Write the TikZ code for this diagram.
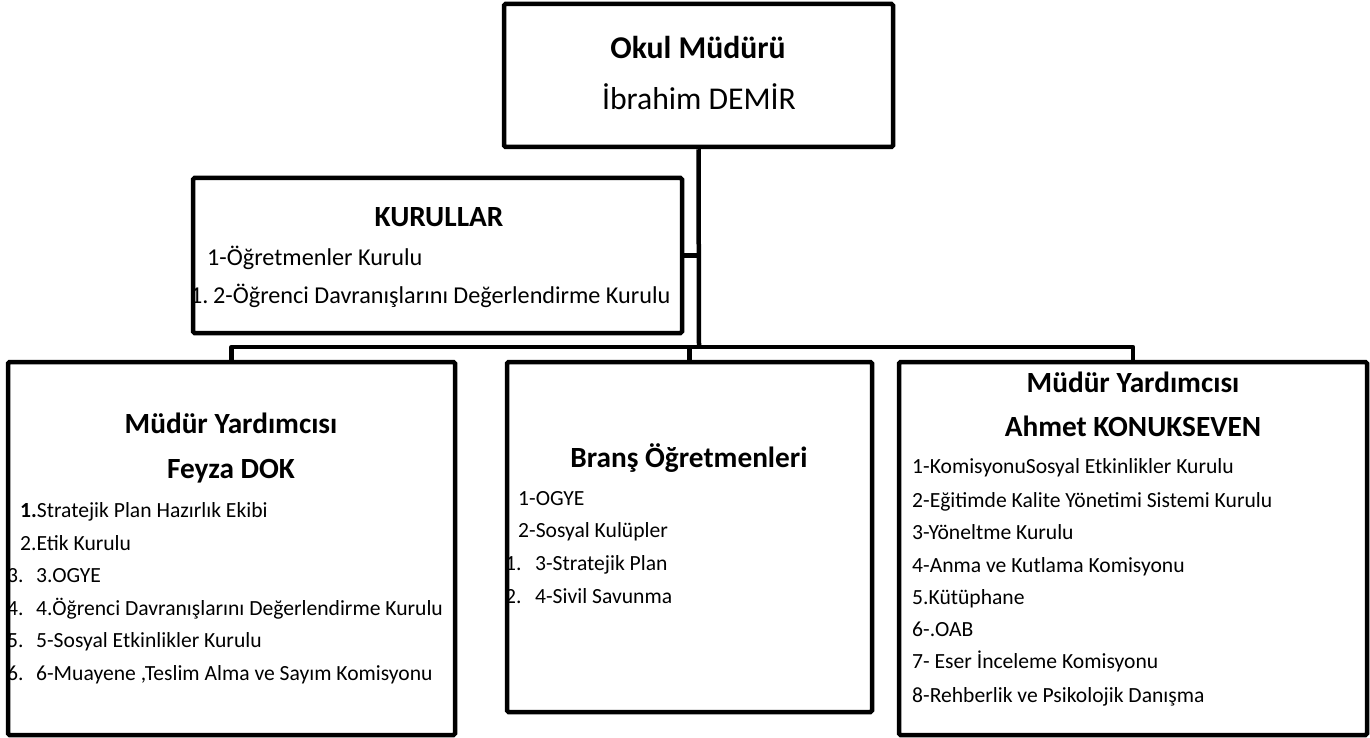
\documentclass[tikz,border=0pt]{standalone}
\usepackage{fontspec}
\setmainfont{Carlito}
\begin{document}
\begin{tikzpicture}[x=1pt,y=-1pt,
  box/.style={draw=black,fill=white,line width=4.5pt,rounded corners=1.5pt,inner sep=0pt},
  conn/.style={draw=black,line width=4.5pt},
  bigtitle/.style={anchor=base,inner sep=0pt,font=\fontsize{31.7}{37}\selectfont},
  title/.style={anchor=base,inner sep=0pt,font=\fontsize{29.3}{34}\selectfont\bfseries},
  item/.style={anchor=base west,inner sep=0pt,font=\fontsize{21.6}{25}\selectfont},
  bigitem/.style={item,font=\fontsize{24.2}{28}\selectfont}]
\useasboundingbox (0,0) rectangle (1370,738);
% boxes
\node[box,minimum width=389pt,minimum height=143pt] (top) at (698.5,75.5) {};
\node[box,minimum width=489pt,minimum height=155pt] (kur) at (437.5,255.5) {};
\node[box,minimum width=447pt,minimum height=373pt] (left) at (231.5,548.5) {};
\node[box,minimum width=365pt,minimum height=350pt] (mid) at (689.5,537) {};
\node[box,minimum width=468pt,minimum height=373pt] (right) at (1133,548.5) {};
% connectors
\coordinate (j) at (699,347);
\draw[conn] (top.south) -- (j);
\draw[conn] (kur.east) -- (kur.east -| j);
\draw[conn,line join=round] (left.north) |- (j) -| (right.north);
\draw[conn] (mid.north) -- (mid.north |- j);
% top box
\node[bigtitle,font=\fontsize{31.7}{37}\selectfont\bfseries] (t1) at (698,59) {Okul Müdürü};
\node[bigtitle] (t2) at (699,110) {İbrahim DEMİR};
% kurullar
\node[title] (k0) at (439,226) {KURULLAR};
\node[bigitem] (k1) at (207,265) {1-Öğretmenler Kurulu};
\node[bigitem] (k2) at (190,303) {\makebox[23pt][l]{1.}2-Öğrenci Davranışlarını Değerlendirme Kurulu};
% left box
\node[title] (l0) at (231,433) {Müdür Yardımcısı};
\node[title] (l00) at (231,478) {Feyza DOK};
\node[item] (l1) at (20,517) {\textbf{1.}Stratejik Plan Hazırlık Ekibi};
\node[item] (l2) at (20,550) {2.Etik Kurulu};
\node[item] (l3) at (7,582) {\makebox[29pt][l]{3.}3.OGYE};
\node[item] (l4) at (7,615) {\makebox[29pt][l]{4.}4.Öğrenci Davranışlarını Değerlendirme Kurulu};
\node[item] (l5) at (7,647) {\makebox[29pt][l]{5.}5-Sosyal Etkinlikler Kurulu};
\node[item] (l6) at (7,680) {\makebox[29pt][l]{6.}6-Muayene ,Teslim Alma ve Sayım Komisyonu};
% middle box
\node[title] (m0) at (689,467) {Branş Öğretmenleri};
\node[item] (m1) at (518,505) {1-OGYE};
\node[item] (m2) at (518,537) {2-Sosyal Kulüpler};
\node[item] (m3) at (505,570) {\makebox[30pt][l]{1.}3-Stratejik Plan};
\node[item] (m4) at (505,603) {\makebox[30pt][l]{2.}4-Sivil Savunma};
% right box
\node[title] (r0) at (1133,392) {Müdür Yardımcısı};
\node[title] (r00) at (1133,436) {Ahmet KONUKSEVEN};
\node[item] (r1) at (912,473) {1-KomisyonuSosyal Etkinlikler Kurulu};
\node[item] (r2) at (912,507) {2-Eğitimde Kalite Yönetimi Sistemi Kurulu};
\node[item] (r3) at (912,539) {3-Yöneltme Kurulu};
\node[item] (r4) at (912,572) {4-Anma ve Kutlama Komisyonu};
\node[item] (r5) at (912,604) {5.Kütüphane};
\node[item] (r6) at (912,636) {6-.OAB};
\node[item] (r7) at (912,668) {7- Eser İnceleme Komisyonu};
\node[item] (r8) at (912,702) {8-Rehberlik ve Psikolojik Danışma};
\end{tikzpicture}
\end{document}
